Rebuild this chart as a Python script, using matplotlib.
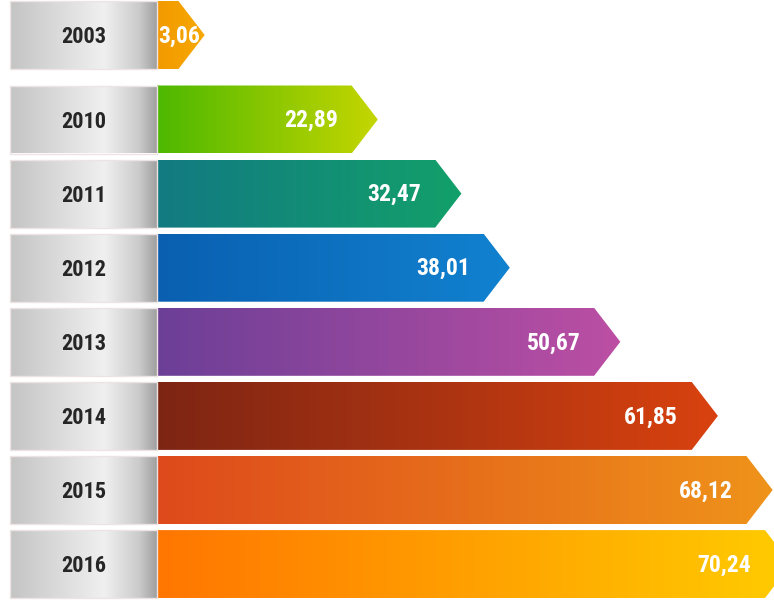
import matplotlib.pyplot as plt
import numpy as np
from matplotlib.colors import LinearSegmentedColormap
from matplotlib.patches import Polygon, Rectangle
from matplotlib import font_manager

years = ["2003", "2010", "2011", "2012", "2013", "2014", "2015", "2016"]
values = [3.06, 22.89, 32.47, 38.01, 50.67, 61.85, 68.12, 70.24]
labels = ["3,06", "22,89", "32,47", "38,01", "50,67", "61,85", "68,12", "70,24"]

# colori sfumati (sinistra -> destra) per ogni barra
bar_colors = [
    ("#F29A00", "#F7A800"),
    ("#4DB800", "#C5D600"),
    ("#127A82", "#12A06A"),
    ("#0A5FB0", "#1182D0"),
    ("#6C3F97", "#BC4FA4"),
    ("#7D2514", "#D9420F"),
    ("#DE4A1C", "#EF931A"),
    ("#FF7600", "#FFCC00"),
]

# cerca un font stretto se disponibile
names = {f.name for f in font_manager.fontManager.ttflist}
condensed = [n for n in ["Liberation Sans Narrow", "DejaVu Sans Condensed", "Roboto Condensed",
                         "Open Sans Condensed"] if n in names]
font = condensed + ["DejaVu Sans"]

px = 8.73  # pixel per unita
fig = plt.figure(figsize=(7.74, 6.03), dpi=100)
ax = fig.add_axes([0, 0, 1, 1])
ax.set_xlim(-157 / px, (774 - 157) / px)
ax.set_ylim(603, 0)
ax.axis("off")

# posizioni verticali delle righe (in pixel), con spazio extra dopo il 2003
centers = [35] + [119.5 + 74.1 * i for i in range(len(years) - 1)]
h = 68
tip_extra = 2.4
tip_len = 3.0

grey = LinearSegmentedColormap.from_list(
    "grey",
    [(0, "#C4C4C4"), (0.35, "#DCDCDC"), (0.64, "#F0F0F0"), (0.88, "#CBCBCB"), (1, "#A0A0A0")],
)
grad = np.linspace(0, 1, 256).reshape(1, -1)

for year, v, lab, (c0, c1), yc in zip(years, values, labels, bar_colors, centers):
    top, bot = yc - h / 2, yc + h / 2
    x_left = -147 / px

    # box grigio con l'anno
    box = Rectangle((x_left, top), -x_left, h, facecolor="none", edgecolor="#EDE3E3", lw=1, zorder=3)
    ax.add_patch(box)
    im = ax.imshow(grad, cmap=grey, extent=(x_left, 0, bot, top), aspect="auto", zorder=2)
    im.set_clip_path(box)
    ax.text(x_left / 2, yc + 2, year, ha="center", va="center", fontsize=16,
            fontweight="bold", fontstretch="condensed", color="#262626", family=font, zorder=4)

    # freccia colorata
    tip = v + tip_extra
    body = tip - tip_len
    arrow = Polygon([(0, top), (body, top), (tip, yc), (body, bot), (0, bot)],
                    closed=True, facecolor="none", edgecolor="none", zorder=3)
    ax.add_patch(arrow)
    cmap = LinearSegmentedColormap.from_list(year, [c0, c1])
    im = ax.imshow(grad, cmap=cmap, extent=(0, tip, bot, top), aspect="auto", zorder=2)
    im.set_clip_path(arrow)

    if v < 10:
        ax.text(0.1, yc + 1, lab, ha="left", va="center", fontsize=17,
                fontweight="bold", fontstretch="condensed", color="white", family=font, zorder=4)
    else:
        ax.text(tip - 40 / px, yc + 1, lab, ha="right", va="center", fontsize=17,
                fontweight="bold", fontstretch="condensed", color="white", family=font, zorder=4)

fig.savefig("out.png", dpi=100, facecolor="white")
